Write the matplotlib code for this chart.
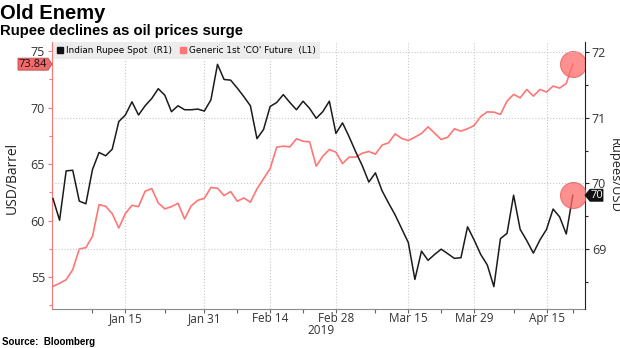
import matplotlib
matplotlib.use("Agg")
import matplotlib.pyplot as plt
import numpy as np
import pandas as pd
from matplotlib.lines import Line2D
from matplotlib.patches import Polygon
from matplotlib.transforms import IdentityTransform, blended_transform_factory

# === DATA ===
dates = pd.bdate_range("2018-12-31", periods=80)

# Generic 1st 'CO' future, USD/barrel (left axis)
brent = [54.17, 54.44, 54.76, 55.65, 57.48, 57.60, 58.60, 61.41, 61.26, 60.61,
         59.34, 60.61, 61.35, 61.23, 62.59, 62.83, 61.56, 61.03, 61.23, 61.53,
         60.14, 61.29, 61.79, 61.97, 62.92, 62.86, 62.21, 62.56, 61.71, 62.00,
         61.62, 62.80, 63.70, 64.60, 66.49, 66.58, 66.52, 67.23, 67.02, 66.96,
         64.81, 65.69, 66.29, 66.05, 65.04, 65.61, 65.61, 65.96, 66.11, 65.87,
         66.67, 66.88, 67.67, 67.26, 67.08, 67.38, 67.70, 68.29, 67.73, 67.17,
         67.38, 68.12, 67.91, 68.12, 68.41, 69.20, 69.62, 69.59, 69.39, 70.57,
         71.16, 70.86, 71.60, 71.01, 71.60, 71.37, 71.90, 71.72, 72.13, 73.84]

# Indian rupee spot, rupees per USD (right axis)
rupee = [69.77, 69.44, 70.19, 70.20, 69.73, 69.69, 70.21, 70.47, 70.42, 70.52,
         70.94, 71.04, 71.24, 71.04, 71.18, 71.29, 71.44, 71.34, 71.09, 71.18,
         71.12, 71.12, 71.13, 71.10, 71.27, 71.81, 71.58, 71.57, 71.45, 71.32,
         71.18, 70.68, 70.82, 71.17, 71.23, 71.35, 71.23, 71.12, 71.25, 71.14,
         70.99, 71.09, 71.25, 70.76, 70.92, 70.71, 70.48, 70.27, 70.02, 70.16,
         69.89, 69.70, 69.52, 69.31, 69.10, 68.54, 68.97, 68.83, 68.92, 69.00,
         68.93, 68.86, 68.87, 69.34, 69.14, 68.92, 68.76, 68.43, 69.16, 69.24,
         69.82, 69.30, 69.13, 68.94, 69.14, 69.30, 69.61, 69.49, 69.23, 69.82]

major_days = ["2019-01-15", "2019-01-31", "2019-02-14", "2019-02-28",
              "2019-03-15", "2019-03-29", "2019-04-15"]
minor_days = ["2019-01-08", "2019-01-23", "2019-02-07", "2019-02-21",
              "2019-03-08", "2019-03-22", "2019-04-08", "2019-04-19"]

RED = "#ff7676"
TICK_FONT = "Open Sans"

x = np.arange(len(dates))
major_pos = dates.get_indexer(pd.to_datetime(major_days))
minor_pos = dates.get_indexer(pd.to_datetime(minor_days))
major_labels = [d.strftime("%b %d").replace(" 0", " ") for d in pd.to_datetime(major_days)]

plt.rcParams["font.family"] = ["Liberation Sans", "DejaVu Sans"]

fig = plt.figure(figsize=(6.2, 3.48), dpi=100)
ax = fig.add_axes([52 / 620, 1 - 309 / 348, 533 / 620, 267 / 348])
ax2 = ax.twinx()

# --- lines ---
ax.plot(x, brent, color=RED, lw=1.2, zorder=3)
ax2.plot(x, rupee, color="#1b1b1b", lw=1.1, zorder=3)

# last-value markers
ax.scatter([x[-1]], [brent[-1]], s=350, color="#ff6b6b", alpha=0.75,
           edgecolor="#e85a5a", linewidth=0.8, zorder=4)
ax2.scatter([x[-1]], [rupee[-1]], s=350, color="#ff6b6b", alpha=0.75,
            edgecolor="#e85a5a", linewidth=0.8, zorder=4)

# --- axes ---
ax.set_xlim(-0.15, 80.85)
ax.set_ylim(52.17, 75.8)
ax2.set_ylim(68.09, 72.15)

ax.set_yticks([55, 60, 65, 70, 75])
ax.set_yticks(np.arange(52.5, 75.1, 2.5), minor=True)
ax2.set_yticks([69, 70, 71, 72])
ax2.set_yticks([68.5, 69.5, 70.5, 71.5], minor=True)
ax.set_xticks(major_pos)
ax.set_xticklabels(major_labels)
ax.set_xticks(minor_pos, minor=True)

for s in ["top", "right"]:
    ax.spines[s].set_visible(False)
for s in ["top", "left", "bottom"]:
    ax2.spines[s].set_visible(False)
ax.spines["left"].set_color(RED)
ax.spines["bottom"].set_color("#8a8a8a")
ax2.spines["right"].set_color("#222222")

ax.tick_params(axis="y", which="both", colors=RED, labelcolor="#333333",
               length=3, width=0.8, pad=2, labelsize=9)
ax.tick_params(axis="y", which="minor", length=2)
ax.tick_params(axis="x", which="both", colors="#666666", labelcolor="#333333",
               length=3, width=0.8, pad=-1, labelsize=8.5)
ax2.tick_params(axis="y", which="both", colors="#222222", labelcolor="#333333",
                length=3, width=0.8, pad=2, labelsize=9)
ax2.tick_params(axis="y", which="minor", length=2)
for lab in ax.get_xticklabels() + ax.get_yticklabels() + ax2.get_yticklabels():
    lab.set_family(TICK_FONT)

ax.grid(True, axis="x", which="major", linestyle=":", color="#c8c8c8", lw=0.8)
ax2.grid(True, axis="y", which="major", linestyle=":", color="#c8c8c8", lw=0.8)
ax.set_axisbelow(True)

# --- legend ---
handles = [Line2D([], [], marker="s", ls="none", markersize=5,
                  markerfacecolor="#111111", markeredgecolor="#111111"),
           Line2D([], [], marker="s", ls="none", markersize=5,
                  markerfacecolor=RED, markeredgecolor=RED)]
leg = ax2.legend(handles, ["Indian Rupee Spot  (R1)", "Generic 1st 'CO' Future  (L1)"],
                 loc="upper left", bbox_to_anchor=(0.002, 1.0), borderaxespad=0,
                 ncol=2, frameon=True, fancybox=False, facecolor="#ececec",
                 edgecolor="none", framealpha=1, handlelength=0.7,
                 handletextpad=0.3, columnspacing=0.9, borderpad=0.45,
                 prop={"family": "DejaVu Sans", "size": 6.4})
leg.set_zorder(5)


# --- value tags on the axes ---
def value_tag(axis, side, y, text, fc, ec, tc):
    x0 = 0 if side == "left" else 1
    px, py = blended_transform_factory(axis.transAxes, axis.transData).transform((x0, y))
    h = 6
    if side == "left":
        verts = [(px, py), (px - 4, py + h), (px - 34, py + h), (px - 34, py - h), (px - 4, py - h)]
        cx = px - 19
    else:
        verts = [(px, py), (px + 5, py + h), (px + 18, py + h), (px + 18, py - h), (px + 5, py - h)]
        cx = px + 11.5
    fig.add_artist(Polygon(verts, closed=True, facecolor=fc, edgecolor=ec, lw=0.6,
                           transform=IdentityTransform()))
    fig.text(cx, py, text, transform=IdentityTransform(), ha="center", va="center",
             color=tc, fontsize=8, family=TICK_FONT)


value_tag(ax, "left", brent[-1], f"{brent[-1]:.2f}", "#f46a6a", "#b84a4a", "#111111")
value_tag(ax2, "right", rupee[-1], f"{rupee[-1]:.0f}", "#111111", "#111111", "white")

# --- text ---
fig.text(12 / 620, 1 - 178 / 348, "USD/Barrel", rotation=90, ha="center", va="center",
         fontsize=10, color="#222222", family=TICK_FONT)
fig.text(614 / 620, 1 - 175 / 348, "Rupees/USD", rotation=270, ha="center", va="center",
         fontsize=9.3, color="#222222", family=TICK_FONT)
fig.text(321 / 620, 1 - 330 / 348, "2019", ha="center", va="center",
         fontsize=8.5, color="#333333", family=TICK_FONT)

fig.text(0.0, 1 - 19 / 348, "Old Enemy", fontsize=14.5, weight="bold", va="baseline")
fig.text(0.0, 1 - 35 / 348, "Rupee declines as oil prices surge", fontsize=10.7,
         weight="bold", va="baseline")
fig.text(0.003, 1 - 342 / 348, "Source:  Bloomberg", fontsize=7, weight="bold",
         va="center")

fig.savefig("out.png", dpi=100)
